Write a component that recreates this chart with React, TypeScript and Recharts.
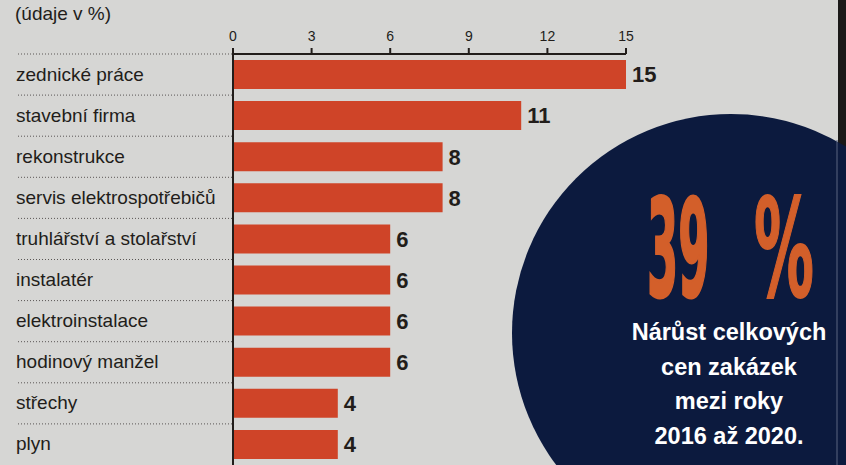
import React from "react";
import { BarChart, Bar, XAxis, YAxis, LabelList } from "recharts";

const categories = [
  "zednické práce",
  "stavební firma",
  "rekonstrukce",
  "servis elektrospotřebičů",
  "truhlářství a stolařství",
  "instalatér",
  "elektroinstalace",
  "hodinový manžel",
  "střechy",
  "plyn",
];
const values = [15, 11, 8, 8, 6, 6, 6, 6, 4, 4];
const xTicks = [0, 3, 6, 9, 12, 15];
const unitLabel = "(údaje v %)";
const highlightValue = "39";
const highlightUnit = "%";
const highlightLines = ["Nárůst celkových", "cen zakázek", "mezi roky", "2016 až 2020."];

const data = categories.map((name, i) => ({ name, value: values[i] }));

const BG = "#d6d6d4";
const BAR = "#cf4428";
const INK = "#221d1a";
const NAVY = "#0c1a3e";
const ORANGE = "#d35f2a";
const FONT = "'Liberation Sans', Arial, sans-serif";
const BIG_FONT = "'DejaVu Sans', sans-serif";

const CategoryTick = (props: any) => {
  const { y, payload } = props;
  const half = payload && typeof payload.offset === "number" && payload.offset > 0 ? payload.offset : 20.55;
  return (
    <g>
      <line x1={18} x2={232} y1={y - half} y2={y - half} stroke="#5a5654" strokeWidth={1} strokeDasharray="1 2" />
      <text x={16} y={y + 6} fontSize={19} fill={INK} fontFamily={FONT}>
        {payload.value}
      </text>
    </g>
  );
};

export default function App() {
  return (
    <div
      style={{
        position: "absolute",
        left: 0,
        top: 0,
        width: 846,
        height: 465,
        background: BG,
        overflow: "hidden",
        fontFamily: FONT,
      }}
    >
      <div style={{ position: "absolute", left: 15, top: 3, fontSize: 19, color: INK }}>{unitLabel}</div>
      <div style={{ position: "absolute", left: 0, top: 0 }}>
        <BarChart
          width={846}
          height={465}
          data={data}
          layout="vertical"
          margin={{ top: 24, right: 220, left: 10, bottom: 0 }}
          barCategoryGap={12}
        >
          <XAxis
            type="number"
            orientation="top"
            domain={[0, 15]}
            ticks={xTicks}
            height={30}
            tickSize={6}
            tickMargin={7}
            axisLine={{ stroke: INK, strokeWidth: 2 }}
            tickLine={{ stroke: INK, strokeWidth: 2 }}
            tick={{ fill: INK, fontSize: 14, fontFamily: FONT }}
            interval={0}
          />
          <YAxis
            type="category"
            dataKey="name"
            width={223}
            tickLine={false}
            axisLine={{ stroke: INK, strokeWidth: 2 }}
            tick={<CategoryTick />}
            interval={0}
          />
          <Bar dataKey="value" fill={BAR} barSize={29} isAnimationActive={false}>
            <LabelList
              dataKey="value"
              position="right"
              offset={6}
              fill={INK}
              fontSize={22}
              fontWeight="bold"
              fontFamily={FONT}
            />
          </Bar>
        </BarChart>
      </div>
      <svg width={846} height={465} style={{ position: "absolute", left: 0, top: 0 }}>
        <rect x={838} y={0} width={8} height={150} fill="#1b1918" />
        <circle cx={731} cy={333} r={219} fill={NAVY} />
        <line x1={837} y1={140} x2={837} y2={465} stroke="#5a6580" strokeWidth={1} />
        <g transform="translate(647,296) scale(0.33,1)">
          <text
            x={0}
            y={0}
            fontSize={136}
            fontWeight="bold"
            fill={ORANGE}
            stroke={ORANGE}
            strokeWidth={3}
            fontFamily={BIG_FONT}
          >
            {highlightValue}
          </text>
        </g>
        <g transform="translate(754,296) scale(0.44,1)">
          <text
            x={0}
            y={0}
            fontSize={136}
            fontWeight="bold"
            fill={ORANGE}
            stroke={ORANGE}
            strokeWidth={2}
            fontFamily={BIG_FONT}
          >
            {highlightUnit}
          </text>
        </g>
        {highlightLines.map((line, i) => (
          <text
            key={i}
            x={729}
            y={340 + i * 34.7}
            fontSize={23.5}
            fontWeight="bold"
            fill="#ffffff"
            textAnchor="middle"
            fontFamily={FONT}
          >
            {line}
          </text>
        ))}
      </svg>
    </div>
  );
}
